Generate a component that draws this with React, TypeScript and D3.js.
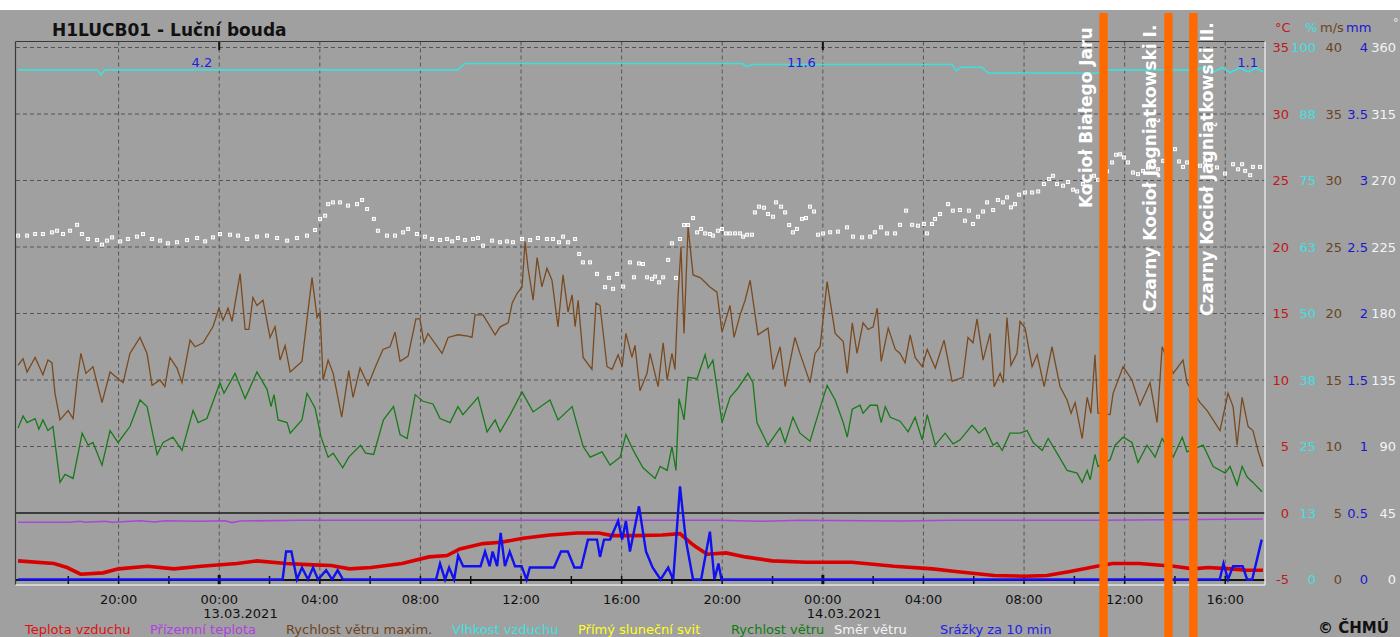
import React from "react";
import * as d3 from "d3";

// hours since 12.03.2021 00:00
const BASE = Date.UTC(2021, 2, 12);
const toDate = (h: number) => new Date(BASE + h * 3600000);

const TITLE = "H1LUCB01 - Luční bouda";

// air temperature [h, °C]
const airTemp: [number, number][] = [
  [16.0, -3.6], [17.43, -3.8], [17.95, -4.1], [18.49, -4.6], [19.38, -4.5], [20.0, -4.2],
  [21.15, -4.0], [22.2, -4.2], [23.28, -4.0], [24.71, -3.8], [25.5, -3.6], [26.66, -3.8],
  [27.73, -3.9], [28.45, -3.95], [29.18, -4.2], [30.04, -4.1], [31.27, -3.8], [32.34, -3.3],
  [33.06, -3.2], [33.57, -2.7], [34.49, -2.3], [35.21, -2.2], [36.08, -1.9], [37.15, -1.65],
  [38.23, -1.5], [39.1, -1.5], [39.62, -1.7], [40.53, -1.7], [41.61, -1.65], [42.32, -1.55],
  [42.78, -2.3], [42.92, -2.5], [43.4, -3.1], [44.15, -3.0], [44.91, -3.3], [45.98, -3.6],
  [47.33, -3.7], [49.16, -3.7], [50.83, -4.0], [52.37, -4.2], [53.28, -4.4], [54.81, -4.7],
  [56.0, -4.75], [56.91, -4.7], [57.83, -4.4], [58.9, -4.0], [59.52, -3.8], [60.57, -3.8],
  [61.95, -4.0], [62.72, -4.2], [63.32, -4.1], [64.23, -4.2], [64.83, -4.3], [65.5, -4.3],
];

// ground temperature [h, °C]
const groundTemp: [number, number][] = [
  [16.0, -0.7], [18.07, -0.7], [18.47, -0.62], [18.67, -0.7], [19.46, -0.62], [19.74, -0.7],
  [20.85, -0.58], [21.45, -0.68], [21.84, -0.58], [23.24, -0.62], [24.23, -0.58], [24.51, -0.72],
  [24.83, -0.6], [27.21, -0.55], [31.98, -0.55], [39.14, -0.55], [43.91, -0.55], [45.5, -0.62],
  [47.09, -0.55], [51.07, -0.6], [53.06, -0.55], [59.02, -0.55], [65.5, -0.45],
];

// max wind speed [h, m/s]
const windMax: [number, number][] = [
  [16.0, 16.1], [16.2, 16.6], [16.36, 15.6], [16.68, 16.7], [16.99, 15.4], [17.19, 16.5], [17.35, 16.3],
  [17.47, 14.0], [17.67, 12.0], [17.99, 12.7], [18.19, 12.1], [18.35, 15.0], [18.5, 17.0], [18.7, 15.5],
  [18.98, 16.0], [19.14, 14.8], [19.34, 13.3], [19.66, 15.6], [19.98, 15.1], [20.18, 14.8], [20.45, 17.0],
  [20.85, 18.2], [21.13, 17.0], [21.33, 14.6], [21.65, 15.0], [21.84, 14.5], [22.04, 16.7], [22.32, 15.9],
  [22.52, 14.8], [22.84, 18.0], [23.04, 17.5], [23.36, 17.8], [23.75, 19.0], [23.99, 20.4], [24.15, 19.5],
  [24.35, 20.4], [24.51, 19.4], [24.83, 23.0], [25.03, 18.8], [25.18, 18.8], [25.34, 21.2], [25.5, 20.6],
  [25.74, 21.0], [26.02, 18.2], [26.22, 19.0], [26.42, 16.5], [26.62, 17.6], [26.82, 15.6], [27.29, 16.4],
  [27.69, 22.7], [27.89, 19.7], [28.01, 20.1], [28.13, 15.0], [28.33, 16.5], [28.53, 15.5], [28.87, 12.2],
  [29.15, 15.7], [29.32, 13.7], [29.6, 15.9], [29.92, 14.6], [30.19, 15.9], [30.51, 17.3], [30.79, 17.5],
  [30.99, 18.6], [31.19, 16.4], [31.51, 16.8], [31.82, 19.6], [31.98, 19.6], [32.14, 17.8], [32.3, 18.5],
  [32.86, 17.0], [33.1, 18.2], [33.49, 18.4], [33.89, 18.3], [34.05, 18.2], [34.17, 19.9], [34.49, 19.9],
  [34.97, 18.4], [35.17, 19.0], [35.49, 19.3], [35.65, 20.8], [35.84, 21.5], [36.04, 22.0], [36.16, 25.4],
  [36.28, 23.4], [36.48, 21.0], [36.64, 24.2], [36.83, 22.0], [37.03, 23.4], [37.23, 22.5], [37.47, 19.0],
  [37.67, 22.9], [37.87, 20.1], [38.03, 21.4], [38.15, 19.0], [38.27, 21.0], [38.47, 16.7], [38.82, 15.8],
  [38.98, 20.8], [39.14, 20.6], [39.42, 16.0], [39.62, 15.8], [39.86, 16.9], [40.02, 16.0], [40.17, 18.5],
  [40.41, 16.7], [40.53, 17.6], [40.73, 14.2], [41.01, 15.5], [41.13, 17.0], [41.45, 14.5], [41.65, 17.8],
  [41.81, 15.0], [42.0, 17.0], [42.12, 15.8], [42.24, 21.2], [42.36, 25.0], [42.48, 18.5], [42.64, 26.5],
  [42.84, 22.9], [43.12, 22.7], [43.24, 22.5], [43.51, 22.0], [43.79, 21.6], [43.99, 18.6], [44.31, 20.6],
  [44.47, 18.2], [44.71, 19.9], [44.91, 21.0], [45.11, 22.5], [45.42, 18.4], [45.82, 18.9], [46.02, 15.8],
  [46.3, 17.5], [46.5, 14.5], [46.89, 18.2], [47.09, 17.0], [47.49, 14.8], [47.69, 17.0], [47.89, 17.5],
  [48.17, 22.4], [48.49, 18.5], [48.81, 17.9], [48.97, 15.5], [49.17, 19.3], [49.36, 17.0], [49.6, 19.3],
  [49.8, 18.8], [50.0, 19.0], [50.16, 20.4], [50.32, 16.4], [50.6, 18.9], [50.88, 17.3], [51.07, 17.0],
  [51.27, 16.3], [51.47, 18.4], [51.67, 16.7], [51.95, 16.0], [52.15, 17.3], [52.47, 15.9], [52.82, 18.0],
  [53.14, 14.9], [53.57, 15.2], [53.77, 18.2], [53.97, 17.8], [54.13, 19.6], [54.37, 16.5], [54.65, 18.5],
  [54.81, 14.5], [55.05, 15.5], [55.17, 14.8], [55.32, 19.7], [55.48, 16.1], [55.72, 17.0], [55.84, 19.4],
  [56.04, 18.9], [56.32, 16.0], [56.52, 16.9], [56.8, 14.5], [57.11, 17.5], [57.43, 14.5], [57.71, 13.5],
  [57.87, 12.5], [58.03, 13.3], [58.31, 10.6], [58.51, 13.7], [58.66, 12.5], [58.82, 16.9], [58.94, 12.5],
  [59.42, 12.4], [59.54, 14.0], [59.94, 16.0], [60.29, 15.0], [60.61, 13.1], [61.01, 14.8], [61.29, 11.8],
  [61.49, 17.5], [61.93, 15.5], [62.32, 16.5], [62.48, 14.8], [63.0, 13.3], [63.28, 12.7], [63.79, 11.2],
  [64.11, 14.0], [64.31, 13.0], [64.47, 10.1], [64.67, 13.7], [64.91, 11.5], [65.1, 11.2], [65.3, 9.7],
  [65.5, 8.5],
];

// wind speed [h, m/s]
const windSpeed: [number, number][] = [
  [16.0, 11.4], [16.2, 12.3], [16.36, 11.8], [16.68, 12.1], [16.83, 11.3], [16.99, 12.0], [17.19, 11.2],
  [17.39, 11.5], [17.67, 7.3], [17.87, 7.9], [18.19, 7.6], [18.55, 11.0], [18.79, 10.1], [18.98, 10.3],
  [19.34, 8.6], [19.66, 11.2], [19.98, 10.3], [20.45, 11.5], [20.85, 13.5], [21.13, 13.0], [21.53, 9.4],
  [21.77, 10.3], [22.16, 10.7], [22.52, 9.7], [22.96, 12.7], [23.16, 11.8], [23.51, 12.1], [24.03, 14.8],
  [24.19, 14.0], [24.63, 15.5], [25.03, 13.6], [25.5, 15.6], [25.9, 14.3], [26.06, 13.0], [26.18, 13.9],
  [26.34, 12.0], [26.7, 11.8], [26.82, 11.0], [27.29, 12.0], [27.49, 14.0], [27.81, 12.9], [28.05, 10.7],
  [28.33, 9.2], [28.53, 9.5], [28.91, 8.4], [29.15, 9.2], [29.62, 10.1], [29.82, 9.5], [30.14, 9.4],
  [30.53, 12.0], [30.93, 13.0], [31.19, 10.9], [31.47, 10.6], [31.79, 13.9], [32.1, 13.4], [32.5, 13.2],
  [32.78, 12.1], [33.18, 11.8], [33.49, 13.0], [33.69, 12.4], [34.29, 13.7], [34.65, 11.1], [34.97, 12.0],
  [35.17, 11.1], [35.57, 12.4], [36.04, 14.1], [36.48, 12.6], [37.15, 13.5], [37.47, 12.0], [38.03, 13.0],
  [38.47, 10.0], [38.75, 9.2], [39.22, 9.6], [39.54, 8.6], [39.94, 9.2], [40.17, 10.9], [40.41, 9.9],
  [40.61, 9.2], [40.85, 8.4], [41.33, 7.6], [41.53, 8.5], [41.81, 8.2], [42.0, 10.0], [42.16, 8.2],
  [42.28, 13.6], [42.4, 12.7], [42.48, 12.0], [42.64, 15.2], [43.0, 15.1], [43.32, 16.9], [43.44, 15.9],
  [43.63, 16.5], [43.99, 11.8], [44.31, 13.7], [44.63, 14.4], [45.02, 15.5], [45.22, 14.8], [45.38, 11.8],
  [45.82, 10.1], [46.3, 11.4], [46.5, 10.3], [46.81, 12.2], [47.09, 11.0], [47.49, 10.4], [47.89, 12.9],
  [48.17, 14.6], [48.49, 13.5], [48.81, 11.8], [48.97, 10.7], [49.17, 12.8], [49.48, 13.1], [49.6, 12.5],
  [49.88, 13.1], [50.16, 13.1], [50.32, 11.8], [50.48, 13.0], [50.68, 12.2], [51.07, 11.9], [51.39, 11.1],
  [51.67, 12.2], [51.95, 10.5], [52.15, 12.4], [52.47, 10.1], [52.86, 11.0], [53.18, 10.2], [53.46, 10.5],
  [53.93, 11.6], [54.21, 11.0], [54.45, 11.4], [54.77, 10.1], [54.93, 10.3], [55.13, 9.7], [55.44, 11.0],
  [55.84, 11.0], [56.12, 11.2], [56.36, 10.3], [56.72, 9.7], [56.96, 10.6], [57.31, 9.5], [57.71, 8.2],
  [58.11, 8.0], [58.31, 7.3], [58.51, 8.2], [58.63, 7.5], [58.82, 9.4], [58.94, 8.5], [59.42, 9.0],
  [59.62, 10.1], [59.94, 10.7], [60.29, 10.3], [60.53, 8.8], [60.89, 10.1], [61.21, 9.2], [61.49, 10.6],
  [61.93, 9.2], [62.29, 10.7], [62.48, 9.6], [63.12, 10.1], [63.52, 8.5], [64.0, 8.0], [64.19, 8.5],
  [64.47, 7.1], [64.67, 8.5], [64.87, 7.7], [65.1, 7.3], [65.46, 6.6],
];

// relative humidity [h, %]
const humidity: [number, number][] = [
  [16.0, 95.8], [19.14, 95.8], [19.3, 94.9], [19.46, 95.8], [33.49, 95.8], [33.77, 97.0],
  [44.79, 97.0], [44.99, 96.4], [45.18, 96.8], [53.14, 96.8], [53.3, 95.6], [53.5, 96.3],
  [54.33, 96.3], [54.57, 95.2], [58.94, 95.2], [59.3, 95.8], [62.8, 95.8], [63.2, 96.3],
  [63.48, 95.3], [63.88, 96.2], [64.19, 95.3], [64.59, 96.2], [64.91, 95.4], [65.22, 96.2], [65.5, 95.4],
];

// wind direction [h, °]
const windDir: [number, number][] = [
  [16.0, 232.7], [16.36, 232.7], [16.68, 233.8], [16.99, 233.8], [17.35, 234.9], [17.55, 236.0], [17.79, 233.8],
  [18.07, 236.0], [18.35, 240.0], [18.54, 233.8], [18.78, 230.4], [19.14, 229.7], [19.34, 226.6], [19.54, 229.3],
  [19.74, 231.5], [20.06, 228.8], [20.37, 230.4], [20.73, 232.0], [20.97, 233.8], [21.33, 230.4], [21.65, 229.3],
  [21.96, 227.5], [22.32, 228.2], [22.72, 229.7], [23.12, 231.1], [23.44, 228.8], [23.75, 231.5], [24.03, 233.8],
  [24.43, 233.3], [24.75, 232.7], [25.11, 230.4], [25.5, 232.0], [25.9, 232.7], [26.3, 231.1], [26.7, 229.3],
  [27.09, 231.1], [27.49, 232.7], [27.81, 236.5], [28.01, 244.0], [28.21, 246.2], [28.33, 254.0], [28.52, 255.2],
  [28.8, 255.2], [29.12, 253.0], [29.48, 254.0], [29.68, 256.8], [29.88, 250.7], [30.15, 244.0], [30.31, 236.0],
  [30.67, 232.7], [30.99, 232.7], [31.31, 234.9], [31.51, 237.2], [31.86, 233.8], [32.18, 232.0], [32.46, 230.4],
  [32.78, 229.7], [33.06, 230.4], [33.26, 228.8], [33.49, 231.1], [33.77, 229.7], [34.09, 230.4], [34.29, 231.1],
  [34.49, 225.9], [34.85, 229.3], [35.16, 228.2], [35.44, 228.8], [35.68, 228.2], [36.04, 230.4], [36.36, 229.7],
  [36.67, 231.1], [37.03, 230.4], [37.27, 230.4], [37.51, 228.2], [37.67, 232.0], [37.87, 228.2], [38.15, 230.4],
  [38.31, 220.3], [38.46, 214.6], [38.74, 214.6], [39.02, 206.8], [39.34, 197.8], [39.5, 204.1], [39.66, 196.7],
  [39.82, 206.8], [40.06, 198.2], [40.33, 214.6], [40.49, 204.5], [40.69, 213.9], [40.85, 213.5], [41.01, 204.5],
  [41.21, 203.4], [41.33, 205.0], [41.49, 201.1], [41.65, 204.5], [41.85, 216.3], [42.0, 227.5], [42.16, 204.1],
  [42.32, 230.4], [42.48, 239.9], [42.64, 239.9], [42.84, 244.6], [43.0, 234.9], [43.16, 237.2], [43.32, 234.2],
  [43.51, 233.8], [43.63, 232.7], [43.83, 236.0], [43.99, 237.2], [44.15, 234.2], [44.31, 234.2], [44.51, 234.2],
  [44.71, 234.2], [44.83, 232.0], [44.99, 233.3], [45.18, 233.3], [45.3, 248.4], [45.46, 252.3], [45.66, 251.6],
  [45.82, 247.3], [46.02, 245.5], [46.14, 255.2], [46.34, 252.3], [46.5, 248.4], [46.66, 239.9], [46.81, 234.9],
  [46.97, 237.2], [47.17, 244.0], [47.33, 244.6], [47.49, 252.3], [47.65, 249.0], [47.81, 233.3], [48.01, 234.2],
  [48.29, 235.0], [48.6, 235.4], [48.96, 238.3], [49.2, 232.0], [49.56, 231.5], [49.88, 232.0], [50.07, 235.0],
  [50.31, 238.3], [50.55, 234.2], [50.87, 234.2], [51.07, 240.0], [51.31, 249.6], [51.55, 240.0], [51.78, 239.4],
  [52.02, 240.6], [52.14, 234.2], [52.34, 240.6], [52.46, 244.0], [52.66, 247.3], [52.98, 254.0], [53.17, 249.6],
  [53.45, 250.0], [53.65, 242.8], [53.81, 249.6], [53.97, 240.6], [54.17, 245.5], [54.37, 249.0], [54.53, 255.2],
  [54.77, 250.0], [54.96, 256.8], [55.16, 255.2], [55.32, 258.6], [55.48, 251.8], [55.64, 254.0], [55.8, 260.4],
  [56.04, 261.9], [56.32, 261.9], [56.56, 262.6], [56.79, 267.6], [56.99, 271.0], [57.15, 273.2], [57.31, 267.6],
  [57.55, 266.5], [57.75, 269.0], [57.95, 263.8], [58.11, 262.6], [58.34, 267.6], [58.63, 265.9], [58.78, 273.2],
  [58.94, 270.5], [59.3, 276.2], [59.5, 282.2], [59.66, 287.4], [59.82, 287.7], [59.97, 285.6], [60.13, 282.2],
  [60.33, 275.4], [60.53, 274.3], [60.73, 276.5], [60.93, 278.8], [61.13, 283.3], [61.33, 277.6], [61.53, 283.3],
  [62.0, 291.2], [62.16, 282.9], [62.32, 279.2], [62.48, 282.2], [63.0, 280.0], [63.2, 282.2], [63.39, 283.8],
  [63.67, 278.8], [63.99, 274.7], [64.31, 281.0], [64.51, 277.6], [64.67, 281.0], [64.79, 276.5], [64.99, 273.6],
  [65.1, 279.2], [65.38, 279.2],
];

// precipitation per 10 min [h, mm]
const precip: [number, number][] = [
  [16.0, 0], [26.52, 0], [26.66, 0.21], [26.87, 0.21], [27.09, 0], [27.29, 0.09], [27.53, 0], [27.73, 0.09],
  [27.93, 0], [28.25, 0.07], [28.49, 0], [28.71, 0.07], [28.92, 0], [32.62, 0], [32.78, 0.12], [32.98, 0],
  [33.14, 0.09], [33.34, 0], [33.5, 0.18], [33.7, 0.1], [34.39, 0.1], [34.57, 0.21], [34.75, 0.1], [34.87, 0.21],
  [35.05, 0.1], [35.19, 0.35], [35.36, 0.1], [35.55, 0.21], [35.76, 0.1], [36.02, 0.1], [36.22, 0], [36.35, 0.09],
  [37.31, 0.09], [37.59, 0.21], [37.86, 0.21], [38.12, 0.09], [38.39, 0.09], [38.66, 0.3], [39.02, 0.3],
  [39.14, 0.17], [39.3, 0.3], [39.54, 0.3], [39.86, 0.44], [40.02, 0.3], [40.17, 0.44], [40.33, 0.21],
  [40.69, 0.55], [40.97, 0.21], [41.23, 0.09], [41.55, 0], [41.85, 0.09], [42.05, 0], [42.32, 0.7],
  [42.55, 0.3], [42.84, 0], [43.16, 0], [43.51, 0.36], [43.69, 0], [43.85, 0.12], [43.97, 0], [63.78, 0],
  [63.93, 0.12], [64.11, 0], [64.31, 0.1], [64.69, 0.1], [64.87, 0], [65.07, 0], [65.45, 0.3],
];

// daily precipitation totals [day-end h, mm]
const dailySums: [number, string][] = [[24, "4.2"], [48, "11.6"], [65.58, "1.1"]];

// right-hand axes, top to bottom
const tempTicks = [35, 30, 25, 20, 15, 10, 5, 0, -5];
const humTicks = ["100", "88", "75", "63", "50", "38", "25", "13", "0"];
const windTicks = ["40", "35", "30", "25", "20", "15", "10", "5", "0"];
const rainTicks = ["4", "3.5", "3", "2.5", "2", "1.5", "1", "0.5", "0"];
const dirTicks = ["360", "315", "270", "225", "180", "135", "90", "45", "0"];

const legendItems = [
  { name: "Teplota vzduchu", color: "#e01010" },
  { name: "Přízemní teplota", color: "#b040e0" },
  { name: "Rychlost větru maxim.", color: "#6e4420" },
  { name: "Vlhkost vzduchu", color: "#40e0e0" },
  { name: "Přímý sluneční svit", color: "#ffff20" },
  { name: "Rychlost větru", color: "#107a10" },
  { name: "Směr větru", color: "#f4f4f4" },
  { name: "Srážky za 10 min", color: "#2020e8" },
];
const legendX = [25, 150, 286, 452, 578, 731, 834, 940];

const annotations = [
  { h: 59.16, label: "Kocioł Białego Jaru", side: -1, start: 208 },
  { h: 61.74, label: "Czarny Kocioł Jagniątkowski I.", side: -1, start: 312 },
  { h: 62.73, label: "Czarny Kocioł Jagniątkowski II.", side: 1, start: 316 },
];

const W = 1400;
const H = 637;
const plot = { left: 16, right: 1265, top: 41.5, bottom: 585 };
const FONT = "'DejaVu Sans', Verdana, sans-serif";

export default function App() {
  const x = d3.scaleUtc().domain([toDate(15.92), toDate(65.58)]).range([plot.left, plot.right]);
  const yTop = 47.5;
  const yBot = 579.5;
  const yTemp = d3.scaleLinear().domain([-5, 35]).range([yBot, yTop]);
  const yWind = d3.scaleLinear().domain([0, 40]).range([yBot, yTop]);
  const yHum = d3.scaleLinear().domain([0, 100]).range([yBot, yTop]);
  const yRain = d3.scaleLinear().domain([0, 4]).range([yBot, yTop]);
  const yDir = d3.scaleLinear().domain([0, 360]).range([yBot, yTop]);

  const mkLine = (ys: d3.ScaleLinear<number, number>) =>
    d3
      .line<[number, number]>()
      .x((d) => x(toDate(d[0])))
      .y((d) => ys(d[1]));

  const gridTimes = x.ticks(d3.utcHour.every(4)!).filter((d) => x(d) > plot.left + 20);
  const minorTimes = x.ticks(d3.utcHour.every(2)!).filter((d) => x(d) > plot.left + 20);
  const fmtTime = d3.utcFormat("%H:%M");
  const fmtDate = d3.utcFormat("%d.%m.%Y");
  const midnights = gridTimes.filter((d) => d.getUTCHours() === 0);

  const colX = { temp: 1289, hum: 1316, wind: 1342, rain: 1368, dir: 1396 };

  return (
    <svg
      width={W}
      height={H}
      style={{ position: "absolute", left: 0, top: 0, fontFamily: FONT }}
    >
      <rect x={0} y={0} width={W} height={H} fill="#ffffff" />
      <rect x={0} y={10} width={W} height={H - 10} fill="#a0a0a0" />

      <text x={52} y={36} fontSize={17} fontWeight="bold" fill="#111">
        {TITLE}
      </text>

      {/* horizontal grid */}
      {tempTicks
        .filter((t) => t !== 0 && t !== -5)
        .map((t) => (
          <line
            key={"h" + t}
            x1={plot.left}
            x2={plot.right}
            y1={yTemp(t)}
            y2={yTemp(t)}
            stroke="#555"
            strokeDasharray="4,3"
            strokeWidth={1}
          />
        ))}
      {/* vertical grid */}
      {gridTimes.map((d) => (
        <line
          key={"v" + d.getTime()}
          x1={x(d)}
          x2={x(d)}
          y1={plot.top}
          y2={plot.bottom}
          stroke="#555"
          strokeDasharray="4,3"
          strokeWidth={1}
        />
      ))}

      {/* zero line and base axis */}
      <line x1={plot.left} x2={plot.right} y1={yTemp(0)} y2={yTemp(0)} stroke="#1a1a1a" strokeWidth={1.6} />
      <line x1={plot.left} x2={plot.right} y1={yBot + 0.5} y2={yBot + 0.5} stroke="#111" strokeWidth={2} />
      {minorTimes.map((d) => {
        const mid = d.getUTCHours() === 0;
        return (
          <line
            key={"t" + d.getTime()}
            x1={x(d)}
            x2={x(d)}
            y1={mid ? 575 : 576}
            y2={mid ? 585 : 584}
            stroke="#111"
            strokeWidth={mid ? 3 : 1.5}
          />
        );
      })}
      {midnights.map((d) => (
        <line key={"m" + d.getTime()} x1={x(d)} x2={x(d)} y1={plot.top} y2={50} stroke="#111" strokeWidth={2} />
      ))}

      {/* wind direction */}
      {windDir.map((d, i) => (
        <rect
          key={"d" + i}
          x={x(toDate(d[0])) - 1.5}
          y={yDir(d[1]) - 1.5}
          width={3}
          height={3}
          fill="#c4c4c4"
          stroke="#ffffff"
          strokeWidth={1}
        />
      ))}

      {/* humidity */}
      <path d={mkLine(yHum)(humidity)!} fill="none" stroke="#3fe0dc" strokeWidth={1.6} />

      {/* wind */}
      <path d={mkLine(yWind)(windMax)!} fill="none" stroke="#7a4a1e" strokeWidth={1.3} />
      <path d={mkLine(yWind)(windSpeed)!} fill="none" stroke="#187a18" strokeWidth={1.3} />

      {/* temperatures */}
      <path d={mkLine(yTemp)(groundTemp)!} fill="none" stroke="#a848d8" strokeWidth={1.6} />
      <path d={mkLine(yTemp)(airTemp)!} fill="none" stroke="#d80000" strokeWidth={3.6} />

      {/* precipitation */}
      <path d={mkLine(yRain)(precip)!} fill="none" stroke="#1010f0" strokeWidth={2.4} />

      {/* daily sums */}
      {dailySums.map(([h, v]) => (
        <text key={"s" + h} x={x(toDate(h)) - 7} y={67} textAnchor="end" fontSize={13} fill="#2020e0">
          {v}
        </text>
      ))}

      {/* plot frame */}
      <line x1={plot.left - 0.5} x2={plot.right} y1={plot.top} y2={plot.top} stroke="#3a3a3a" strokeWidth={1.2} />
      <line x1={plot.left - 0.5} x2={plot.left - 0.5} y1={plot.top} y2={plot.bottom} stroke="#3a3a3a" strokeWidth={1.2} />
      <line x1={plot.right} x2={plot.right} y1={plot.top} y2={plot.bottom} stroke="#e4e4e4" strokeWidth={1.5} />
      <line x1={plot.left - 0.5} x2={plot.right} y1={plot.bottom} y2={plot.bottom} stroke="#e4e4e4" strokeWidth={1.5} />

      {/* time axis labels */}
      {gridTimes.map((d) => (
        <text key={"l" + d.getTime()} x={x(d)} y={604} textAnchor="middle" fontSize={13} fill="#111">
          {fmtTime(d)}
        </text>
      ))}
      {midnights.map((d) => (
        <text key={"dl" + d.getTime()} x={x(d) - 16} y={618} fontSize={13} fill="#111">
          {fmtDate(d)}
        </text>
      ))}

      {/* right axes */}
      <text x={1275} y={32} fontSize={13} fill="#c01818">°C</text>
      <text x={1305} y={32} fontSize={13} fill="#40e0e0">%</text>
      <text x={1320} y={32} fontSize={13} fill="#6a4420">m/s</text>
      <text x={1346} y={32} fontSize={13} fill="#1818d0">mm</text>
      <text x={1393} y={26} fontSize={11} fill="#f0f0f0">°</text>
      {tempTicks.map((t, i) => {
        const y = yTemp(t);
        return (
          <g key={"r" + i} fontSize={13} textAnchor="end">
            <text x={colX.temp} y={y} dy="0.36em" fill="#c01818">{t}</text>
            <text x={colX.hum} y={y} dy="0.36em" fill="#40e0e0">{humTicks[i]}</text>
            <text x={colX.wind} y={y} dy="0.36em" fill="#6a4420">{windTicks[i]}</text>
            <text x={colX.rain} y={y} dy="0.36em" fill="#1818d0">{rainTicks[i]}</text>
            <text x={colX.dir} y={y} dy="0.36em" fill="#f4f4f4">{dirTicks[i]}</text>
          </g>
        );
      })}

      {/* legend */}
      {legendItems.map((it, i) => (
        <text key={it.name} x={legendX[i]} y={634} fontSize={13} fill={it.color}>
          {it.name}
        </text>
      ))}
      <text x={1318} y={633} fontSize={15} fontWeight="bold" fill="#111">
        © ČHMÚ
      </text>

      {/* annotations */}
      {annotations.map((a) => {
        const bx = x(toDate(a.h));
        const tx = a.side < 0 ? bx - 12 : bx + 20;
        return (
          <g key={a.label}>
            <rect x={bx - 4.2} y={13} width={8.4} height={H - 13} fill="#ff6a00" />
            <text
              transform={`translate(${tx},${a.start}) rotate(-90)`}
              fontSize={17}
              fontWeight="bold"
              fill="#ffffff"
            >
              {a.label}
            </text>
          </g>
        );
      })}
    </svg>
  );
}
